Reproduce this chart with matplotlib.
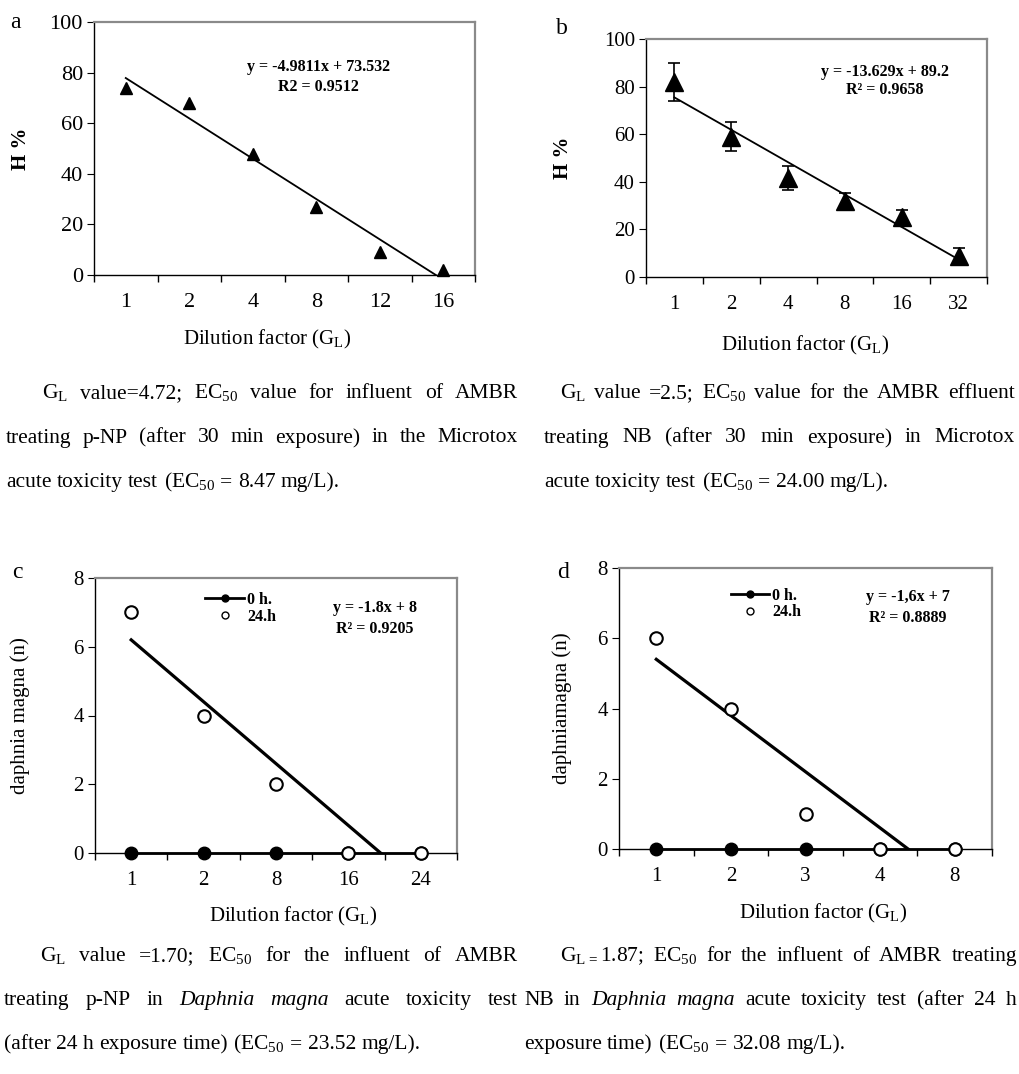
import numpy as np
import matplotlib
matplotlib.use('Agg')
import matplotlib.pyplot as plt
from matplotlib.lines import Line2D

# Times-like serif everywhere, also inside mathtext (subscripts)
plt.rcParams['font.family'] = ['Liberation Serif', 'DejaVu Serif']
plt.rcParams['mathtext.fontset'] = 'custom'
plt.rcParams['mathtext.rm'] = 'Liberation Serif'
plt.rcParams['mathtext.it'] = 'Liberation Serif:italic'
plt.rcParams['mathtext.bf'] = 'Liberation Serif:bold'

# ---- data ----
a_labels = ['1', '2', '4', '8', '12', '16']
a_h = [74, 68, 48, 27, 9, 2]

b_labels = ['1', '2', '4', '8', '16', '32']
b_h = [82, 59, 41.5, 32, 25, 9]
b_err = [8, 6, 5, 3.5, 3, 3]

c_labels = ['1', '2', '8', '16', '24']
c_0h = [0, 0, 0, 0, 0]
c_24h = [7, 4, 2, 0, 0]

d_labels = ['1', '2', '3', '4', '8']
d_0h = [0, 0, 0, 0, 0]
d_24h = [6, 4, 1, 0, 0]

eq_a = ['y = -4.9811x + 73.532', 'R2 = 0.9512']
eq_b = ['y = -13.629x + 89.2', 'R² = 0.9658']
eq_c = ['y = -1.8x + 8', 'R² = 0.9205']
eq_d = ['y = -1,6x + 7', 'R² = 0.8889']

cap_a = ['G$_\\mathrm{L}$ value=4.72; EC$_{50}$ value for influent of AMBR',
         'treating p-NP (after 30 min exposure) in the Microtox',
         'acute toxicity test (EC$_{50}$ = 8.47 mg/L).']
cap_b = ['G$_\\mathrm{L}$ value =2.5; EC$_{50}$ value for the AMBR effluent',
         'treating NB (after 30 min exposure) in Microtox',
         'acute toxicity test (EC$_{50}$ = 24.00 mg/L).']
cap_c = ['G$_\\mathrm{L}$ value =1.70; EC$_{50}$ for the influent of AMBR',
         'treating p-NP in Daphnia magna acute toxicity test',
         '(after 24 h exposure time) (EC$_{50}$ = 23.52 mg/L).']
cap_d = ['G$_{\\mathrm{L}\\,=}$1.87; EC$_{50}$ for the influent of AMBR treating',
         'NB in Daphnia magna acute toxicity test (after 24 h',
         'exposure time) (EC$_{50}$ = 32.08 mg/L).']
ITALIC = {'Daphnia', 'magna'}

XLAB = 'Dilution factor (G$_\\mathrm{L}$)'

W, H = 1019, 1074
fig = plt.figure(figsize=(W / 100, H / 100), dpi=100)


def px_axes(l, r, t, b):
    # axes from pixel box
    return fig.add_axes([l / W, 1 - b / H, (r - l) / W, (b - t) / H])


def setup(ax, labels, ymax, ystep, tsize=15):
    n = len(labels)
    ax.set_xlim(0.5, n + 0.5)
    ax.set_ylim(0, ymax)
    ax.set_xticks(np.arange(1, n + 1))
    ax.set_xticklabels(labels)
    ax.set_xticks(np.arange(0.5, n + 1), minor=True)
    ax.tick_params(axis='x', which='major', length=0, pad=13, labelsize=tsize)
    ax.tick_params(axis='x', which='minor', length=5, direction='out', width=1)
    ax.set_yticks(np.arange(0, ymax + 1, ystep))
    ax.tick_params(axis='y', length=5, direction='out', labelsize=tsize, pad=3)
    for s in ['top', 'right']:
        ax.spines[s].set_color('#8a8a8a')
        ax.spines[s].set_linewidth(1.6)
    for s in ['left', 'bottom']:
        ax.spines[s].set_color('black')
        ax.spines[s].set_linewidth(1.0)


def trend(ax, y, lw):
    x = np.arange(1, len(y) + 1)
    k, c0 = np.polyfit(x, y, 1)
    x_end = min(x[-1], -c0 / k)
    xs = np.array([1, x_end])
    ax.plot(xs, k * xs + c0, color='black', lw=lw, zorder=4)


def equation(ax, lines, x, y1, y2):
    ax.text(x, y1, lines[0], transform=ax.transAxes, ha='center', va='center',
            fontsize=11.5, fontweight='bold')
    ax.text(x, y2, lines[1], transform=ax.transAxes, ha='center', va='center',
            fontsize=11.5, fontweight='bold')


# ---- a ----
ax = px_axes(94, 475, 22, 275)
setup(ax, a_labels, 100, 20, tsize=16)
ax.plot(np.arange(1, 7), a_h, '^', color='black', ms=9, clip_on=False, zorder=5)
trend(ax, a_h, 1.3)
equation(ax, eq_a, 0.59, 0.822, 0.743)
ax.set_ylabel('H %', fontsize=15, fontweight='bold')
ax.yaxis.set_label_coords(-0.165, 0.5)
ax.set_xlabel(XLAB, fontsize=15)
ax.xaxis.set_label_coords(0.454, -0.21)

# ---- b ----
ax = px_axes(646, 987, 39, 277)
setup(ax, b_labels, 100, 20)
ax.errorbar(np.arange(1, 7), b_h, yerr=b_err, fmt='^', color='black', ms=13,
            capsize=4, elinewidth=1.2, capthick=1.2, zorder=5)
trend(ax, b_h, 1.3)
equation(ax, eq_b, 0.70, 0.861, 0.786)
ax.set_ylabel('H %', fontsize=15, fontweight='bold')
ax.yaxis.set_label_coords(-0.215, 0.5)
ax.set_xlabel(XLAB, fontsize=15)
ax.xaxis.set_label_coords(0.466, -0.24)


# ---- c and d ----
def daphnia(box, labels, v0, v24, eq, eqpos, legpos, ylab, ylx, xlx):
    ax = px_axes(*box)
    setup(ax, labels, 8, 2)
    x = np.arange(1, len(labels) + 1)
    ax.plot(x, v0, '-o', color='black', lw=2, ms=9, clip_on=False, zorder=5)
    ax.plot(x, v24, 'o', mfc='white', mec='black', mew=1.5, ms=9,
            clip_on=False, zorder=6)
    trend(ax, v24, 2.3)
    equation(ax, eq, *eqpos)
    hnd = [Line2D([], [], color='black', lw=2, marker='o', ms=5),
           Line2D([], [], ls='none', marker='o', mfc='white', mec='black', ms=5)]
    ax.legend(hnd, ['0 h.', '24.h'], loc='upper left', bbox_to_anchor=legpos,
              frameon=False, handlelength=2.4, handletextpad=0.2,
              labelspacing=0.05, borderaxespad=0, borderpad=0,
              prop={'size': 11.5, 'weight': 'bold'})
    ax.set_ylabel(ylab, fontsize=15)
    ax.yaxis.set_label_coords(ylx, 0.5)
    ax.set_xlabel(XLAB, fontsize=15)
    ax.xaxis.set_label_coords(xlx, -0.19)
    return ax


daphnia((95, 457, 578, 853), c_labels, c_0h, c_24h, eq_c, (0.773, 0.891, 0.815),
        (0.305, 0.95), 'daphnia magna (n)', -0.18, 0.547)
daphnia((619, 992, 568, 849), d_labels, d_0h, d_24h, eq_d, (0.775, 0.897, 0.822),
        (0.30, 0.93), 'daphniamagna (n)', -0.126, 0.547)

# panel letters
for s, xp, yp in [('a', 15, 22), ('b', 562, 28), ('c', 17, 573), ('d', 563, 573)]:
    fig.text(xp / W, 1 - yp / H, s, fontsize=17, ha='center', va='center')

# ---- captions, justified word by word ----
renderer = fig.canvas.get_renderer()
CAP_SIZE = 15.5


def caption_line(line, x0, x1, yb, justify):
    arts = []
    for w in line.split():
        st = 'italic' if w in ITALIC else 'normal'
        arts.append(fig.text(0, 1 - yb / H, w, fontsize=CAP_SIZE, style=st,
                             ha='left', va='baseline'))
    widths = [a.get_window_extent(renderer).width for a in arts]
    space = 0.25 * CAP_SIZE * 100 / 72
    if justify and len(arts) > 1:
        gap = max(3, (x1 - x0 - sum(widths)) / (len(arts) - 1))
    else:
        gap = space
    xx = x0
    for a, w in zip(arts, widths):
        a.set_x(xx / W)
        xx += w + gap


def caption(lines, x_first, x_rest, x_right, y0, step):
    for i, ln in enumerate(lines):
        x0 = x_first if i == 0 else x_rest
        caption_line(ln, x0, x_right, y0 + i * step, i < len(lines) - 1)


caption(cap_a, 42, 6, 518, 398, 44.5)
caption(cap_b, 560, 544, 1015, 398, 44.5)
caption(cap_c, 40, 4, 518, 961, 44)
caption(cap_d, 560, 524, 1017, 961, 44)

fig.savefig('out.png', dpi=100)
